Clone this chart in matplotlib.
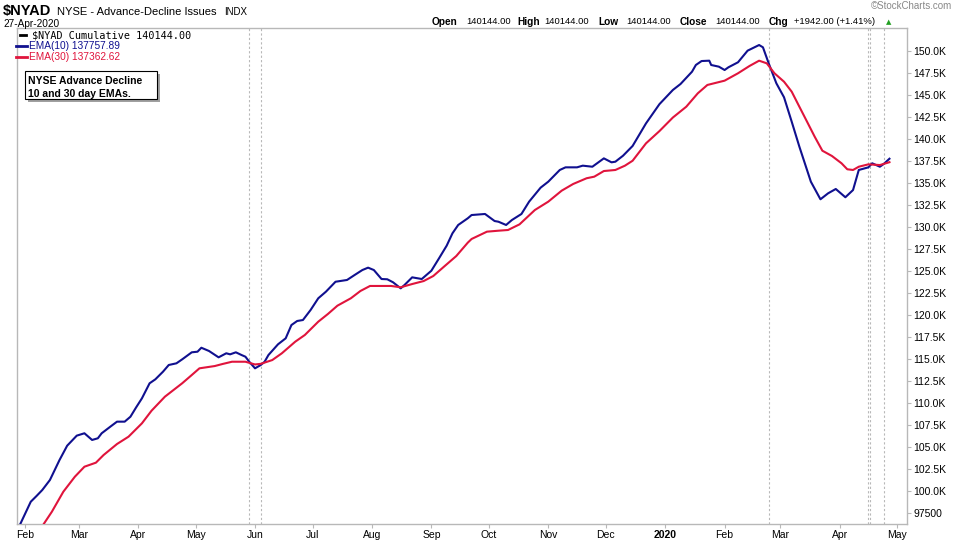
import matplotlib
matplotlib.use("Agg")
import matplotlib.pyplot as plt
import matplotlib.ticker as mticker
import pandas as pd
from matplotlib.lines import Line2D
from matplotlib.patches import Rectangle

plt.rcParams["font.family"] = ["Liberation Sans", "DejaVu Sans"]

# EMA(10) of the NYSE cumulative advance-decline line
ema10_dates = [
    "2019-01-29", "2019-02-04", "2019-02-07", "2019-02-10", "2019-02-14", "2019-02-19",
    "2019-02-23", "2019-02-28", "2019-03-04", "2019-03-08", "2019-03-11", "2019-03-13",
    "2019-03-18", "2019-03-21", "2019-03-25", "2019-03-28", "2019-03-31", "2019-04-03",
    "2019-04-07", "2019-04-10", "2019-04-14", "2019-04-17", "2019-04-21", "2019-04-24",
    "2019-04-29", "2019-05-02", "2019-05-04", "2019-05-08", "2019-05-13", "2019-05-17",
    "2019-05-19", "2019-05-22", "2019-05-25", "2019-05-27", "2019-05-29", "2019-06-01",
    "2019-06-04", "2019-06-06", "2019-06-08", "2019-06-13", "2019-06-17", "2019-06-20",
    "2019-06-23", "2019-06-26", "2019-06-30", "2019-07-04", "2019-07-08", "2019-07-13",
    "2019-07-19", "2019-07-23", "2019-07-27", "2019-07-30", "2019-08-02", "2019-08-06",
    "2019-08-09", "2019-08-12", "2019-08-16", "2019-08-18", "2019-08-22", "2019-08-27",
    "2019-09-01", "2019-09-05", "2019-09-09", "2019-09-12", "2019-09-15", "2019-09-20",
    "2019-09-22", "2019-09-29", "2019-10-04", "2019-10-06", "2019-10-10", "2019-10-13",
    "2019-10-18", "2019-10-22", "2019-10-28", "2019-11-01", "2019-11-07", "2019-11-10",
    "2019-11-16", "2019-11-19", "2019-11-24", "2019-11-30", "2019-12-04", "2019-12-06",
    "2019-12-10", "2019-12-15", "2019-12-22", "2019-12-29", "2020-01-05", "2020-01-09",
    "2020-01-15", "2020-01-17", "2020-01-20", "2020-01-24", "2020-01-25", "2020-01-29",
    "2020-02-01", "2020-02-03", "2020-02-08", "2020-02-13", "2020-02-19", "2020-02-21",
    "2020-02-24", "2020-02-28", "2020-03-03", "2020-03-07", "2020-03-11", "2020-03-17",
    "2020-03-22", "2020-03-26", "2020-03-30", "2020-04-04", "2020-04-08", "2020-04-11",
    "2020-04-16", "2020-04-18", "2020-04-22", "2020-04-24", "2020-04-27",
]
ema10_vals = [
    96000, 98780, 99430, 100110, 101250, 103520,
    105150, 106290, 106560, 105800, 105990, 106560,
    107390, 107880, 107880, 108440, 109510, 110530,
    112240, 112690, 113560, 114320, 114510, 114960,
    115760, 115830, 116280, 115910, 115190, 115650,
    115530, 115760, 115450, 115260, 114690, 113940,
    114320, 114690, 115450, 116670, 117350, 118860,
    119320, 119430, 120570, 121900, 122650, 123780,
    123980, 124550, 125110, 125380, 125110, 124090,
    124060, 123720, 123030, 123410, 124280, 124090,
    125030, 126440, 127880, 129280, 130230, 130990,
    131360, 131480, 130680, 130600, 130230, 130790,
    131480, 132880, 134470, 135150, 136480, 136780,
    136780, 136970, 136850, 137800, 137350, 137420,
    138100, 139210, 141780, 143960, 145570, 146250,
    147650, 148410, 148860, 148900, 148410, 148220,
    147840, 148150, 148720, 150040, 150680, 150420,
    148600, 146330, 144740, 141970, 139130, 135150,
    133150, 133830, 134320, 133380, 134200, 136480,
    136780, 137240, 136850, 137160, 137758,
]

# EMA(30)
ema30_dates = [
    "2019-02-10", "2019-02-15", "2019-02-21", "2019-02-27", "2019-03-04", "2019-03-10",
    "2019-03-14", "2019-03-21", "2019-03-27", "2019-04-03", "2019-04-08", "2019-04-15",
    "2019-04-24", "2019-04-29", "2019-05-03", "2019-05-11", "2019-05-15", "2019-05-20",
    "2019-05-27", "2019-06-01", "2019-06-04", "2019-06-10", "2019-06-15", "2019-06-22",
    "2019-06-27", "2019-07-04", "2019-07-09", "2019-07-14", "2019-07-21", "2019-07-26",
    "2019-07-31", "2019-08-06", "2019-08-11", "2019-08-16", "2019-08-22", "2019-08-28",
    "2019-09-02", "2019-09-08", "2019-09-14", "2019-09-20", "2019-09-22", "2019-09-30",
    "2019-10-06", "2019-10-11", "2019-10-17", "2019-10-25", "2019-11-01", "2019-11-08",
    "2019-11-14", "2019-11-21", "2019-11-25", "2019-11-30", "2019-12-06", "2019-12-11",
    "2019-12-15", "2019-12-22", "2019-12-29", "2020-01-05", "2020-01-12", "2020-01-18",
    "2020-01-23", "2020-02-01", "2020-02-08", "2020-02-14", "2020-02-19", "2020-02-23",
    "2020-02-27", "2020-03-03", "2020-03-07", "2020-03-11", "2020-03-15", "2020-03-19",
    "2020-03-23", "2020-03-28", "2020-04-02", "2020-04-05", "2020-04-08", "2020-04-11",
    "2020-04-16", "2020-04-22", "2020-04-27",
]
ema30_vals = [
    96000, 97640, 99920, 101620, 102760, 103220,
    104090, 105340, 106170, 107690, 109120, 110720,
    112240, 113180, 113940, 114200, 114430, 114690,
    114690, 114380, 114450, 114880, 115650, 116970,
    117730, 119240, 120110, 121060, 121900, 122730,
    123300, 123300, 123300, 123150, 123520, 123860,
    124430, 125570, 126700, 128220, 128640, 129470,
    129580, 129660, 130300, 131930, 132880, 134130,
    134890, 135540, 135720, 136360, 136480, 136970,
    137530, 139510, 140900, 142440, 143670, 145190,
    146140, 146630, 147470, 148300, 148900, 148600,
    147470, 146510, 145380, 143670, 141970, 140260,
    138670, 138070, 137240, 136560, 136480, 136850,
    137120, 137040, 137363,
]

event_dates = ["2019-05-29", "2019-06-04", "2020-02-24", "2020-04-16", "2020-04-17", "2020-04-24"]
month_ticks = pd.date_range("2019-02-01", "2020-05-01", freq="MS")
month_labels = ["Feb", "Mar", "Apr", "May", "Jun", "Jul", "Aug", "Sep", "Oct", "Nov",
                "Dec", "2020", "Feb", "Mar", "Apr", "May"]
y_ticks = list(range(97500, 150001, 2500))

BLUE = "#10108f"
RED = "#e0143c"
GRID = "#b8b8b8"

W, H = 960, 540
fig = plt.figure(figsize=(9.6, 5.4), dpi=100)
ax = fig.add_axes([16.7 / W, 1 - 524 / H, (906.7 - 16.7) / W, (524 - 28) / H])

def fx(x):
    return x / W

def fy(y):
    return 1 - y / H

for d in event_dates:
    ax.axvline(pd.Timestamp(d), color=GRID, lw=0.8, ls=(0, (2, 2)), zorder=1)

ax.plot(pd.to_datetime(ema10_dates), ema10_vals, color=BLUE, lw=1.5, zorder=3)
ax.plot(pd.to_datetime(ema30_dates), ema30_vals, color=RED, lw=1.5, zorder=4)

ax.set_xlim(pd.Timestamp("2019-01-27 16:00"), pd.Timestamp("2020-05-06"))
ax.set_ylim(96250, 152614)

ax.yaxis.tick_right()
ax.set_yticks(y_ticks)
ax.yaxis.set_major_formatter(mticker.FuncFormatter(
    lambda v, p: f"{v / 1000:.1f}K" if v >= 100000 else f"{v:.0f}"))
ax.set_xticks(month_ticks)
ax.set_xticklabels(month_labels)
for lab in ax.get_xticklabels():
    if lab.get_text() == "2020":
        lab.set_fontweight("bold")
ax.tick_params(axis="y", direction="out", length=3, color=GRID, labelsize=7.5, pad=2)
ax.tick_params(axis="x", direction="out", length=3, color=GRID, labelsize=7.5, pad=1.5)
for s in ax.spines.values():
    s.set_color(GRID)
    s.set_linewidth(1.0)

# header
fig.text(fx(3), fy(11.5), "$NYAD", fontsize=10.5, fontweight="bold", va="center")
fig.text(fx(57), fy(12), "NYSE - Advance-Decline Issues", fontsize=8, va="center")
fig.text(fx(224), fy(12), "INDX", fontsize=7, va="center")
fig.text(fx(3), fy(24), "27-Apr-2020", fontsize=7.3, va="center")
fig.text(fx(952), fy(6), "\u00a9StockCharts.com", fontsize=7, color="#888888", ha="right", va="center")

quote = [(431.7, "Open", True), (466.7, "140144.00", False), (517, "High", True),
         (544, "140144.00", False), (598, "Low", True), (626, "140144.00", False),
         (680, "Close", True), (715.7, "140144.00", False), (769, "Chg", True),
         (794, "+1942.00 (+1.41%)", False)]
for x, s, b in quote:
    fig.text(fx(x), fy(22), s, fontsize=7.3 if b else 6.8,
             fontweight="bold" if b else "normal", va="center")
fig.text(fx(886), fy(22), "\u25b2", fontsize=5, color="#22a022", va="center",
         family=["DejaVu Sans"])

# legend
legend = [(20, 26, 32, "$NYAD Cumulative 140144.00", "black", ["DejaVu Sans Mono"]),
          (16, 27, 29, "EMA(10) 137757.89", BLUE, ["Liberation Sans"]),
          (16, 27, 29, "EMA(30) 137362.62", RED, ["Liberation Sans"])]
for i, (x0, x1, xt, s, c, fam) in enumerate(legend):
    y = 35 + i * 11.2
    fig.add_artist(Line2D([fx(x0), fx(x1)], [fy(y), fy(y)], color=c, lw=2))
    fig.text(fx(xt), fy(y), s, color=c, fontsize=7.3, family=fam, va="center")

# note box with shadow
fig.add_artist(Rectangle((fx(28), fy(102)), (157 - 25) / W, (99 - 71) / H,
                         facecolor="#a0a0a0", edgecolor="none"))
fig.add_artist(Rectangle((fx(25), fy(99)), (157 - 25) / W, (99 - 71) / H,
                         facecolor="white", edgecolor="black", lw=0.8))
fig.text(fx(28), fy(81), "NYSE Advance Decline", fontsize=7.5, fontweight="bold", va="center")
fig.text(fx(28), fy(94), "10 and 30 day EMAs.", fontsize=7.5, fontweight="bold", va="center")

fig.savefig("out.png", dpi=100)
